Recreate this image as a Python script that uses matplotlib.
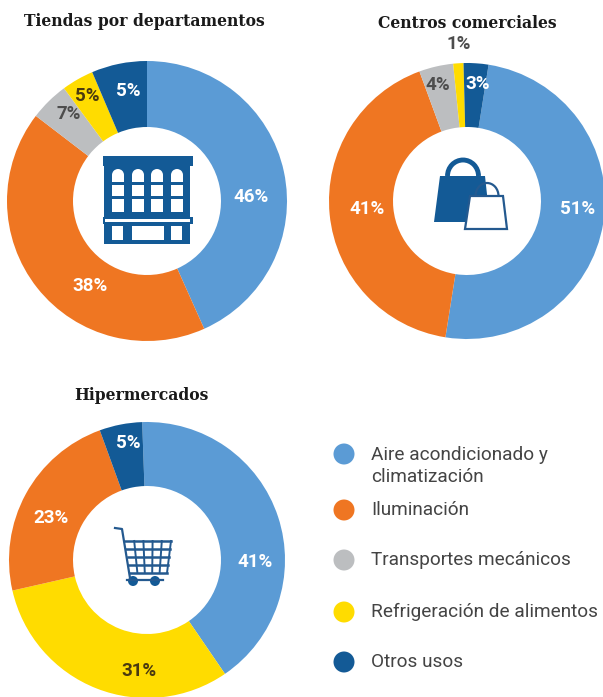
import matplotlib
matplotlib.use('Agg')
import matplotlib.pyplot as plt
from matplotlib.patches import Circle, Polygon, Rectangle, Arc, Wedge

W, H = 603, 697

BLUE = '#5b9bd5'
ORANGE = '#ef7622'
GRAY = '#bcbec0'
YELLOW = '#ffdc00'
NAVY = '#135a96'
LINE = '#24598f'

titles = ['Tiendas por departamentos', 'Centros comerciales', 'Hipermercados']

# lo impreso (labels) y lo que mide cada arco (shares) no siempre coinciden
dept_labels = [46, 38, 7, 5, 5]
dept_shares = [43.3, 42.1, 4.5, 3.7, 6.4]
dept_colors = [BLUE, ORANGE, GRAY, YELLOW, NAVY]
mall_labels = [51, 41, 4, 1, 3]
mall_shares = [50, 41.9, 4, 1.2, 2.9]
mall_colors = [BLUE, ORANGE, GRAY, YELLOW, NAVY]
hyper_labels = [41, 31, 23, 5]
hyper_shares = [41, 31, 23, 5]
hyper_colors = [BLUE, YELLOW, ORANGE, NAVY]

legend_labels = ['Aire acondicionado y\nclimatización', 'Iluminación',
                 'Transportes mecánicos', 'Refrigeración de alimentos', 'Otros usos']
legend_colors = [BLUE, ORANGE, GRAY, YELLOW, NAVY]


def py(y):
    return H - y


def donut(ax, values, colors, cx, cy, r, r_in, start):
    ax.pie(values, colors=colors, startangle=start, counterclock=False,
           center=(cx, py(cy)), radius=r, frame=True, normalize=True,
           wedgeprops={'width': r - r_in, 'linewidth': 0})


def title(ax, x, y, s):
    ax.text(x, py(y), s, color='#1a1a1a', fontsize=12.5, ha='center', va='center',
            family='DejaVu Serif', fontweight='bold', stretch='condensed')


def pct(ax, x, y, v, color):
    ax.text(x, py(y), '%d%%' % v, color=color, fontsize=13.5, ha='center', va='center',
            family='Roboto', fontweight='bold')


def building(ax):
    ax.add_patch(Rectangle((104, py(244)), 86, 78, color=NAVY, lw=0))
    ax.add_patch(Rectangle((103, py(166)), 90, 10, color=NAVY, lw=0))
    for x in [112, 132, 151, 171]:
        ax.add_patch(Wedge((x + 6, py(175)), 6, 0, 180, color='white', lw=0))
        ax.add_patch(Rectangle((x, py(182)), 12, 7, color='white', lw=0))
        ax.add_patch(Rectangle((x, py(196)), 12, 11, color='white', lw=0))
        ax.add_patch(Rectangle((x, py(212)), 12, 13, color='white', lw=0))
    ax.add_patch(Rectangle((103, py(224)), 90, 7, color=NAVY, lw=0))
    ax.add_patch(Rectangle((105, py(222)), 85, 3, color='white', lw=0))
    ax.add_patch(Rectangle((112, py(240)), 11, 14, color='white', lw=0))
    ax.add_patch(Rectangle((132, py(240)), 32, 14, color='white', lw=0))
    ax.add_patch(Rectangle((171, py(240)), 11, 14, color='white', lw=0))


def bags(ax):
    ax.add_patch(Polygon([(440, py(176)), (485, py(176)), (490, py(222)), (434, py(222))],
                         color=NAVY, lw=0))
    ax.add_patch(Arc((463, py(176)), 31, 32, theta1=0, theta2=180, color=NAVY, lw=3.5))
    ax.add_patch(Polygon([(470, py(196)), (503, py(196)), (507, py(229)), (465, py(229))],
                         facecolor='white', edgecolor=LINE, lw=1.6))
    ax.add_patch(Arc((487, py(196)), 23, 26, theta1=0, theta2=180, color=LINE, lw=1.6))


def cart(ax):
    ax.plot([115, 122, 130], [py(528), py(529), py(578)], color=LINE, lw=1.6)
    ax.plot([127, 163], [py(580), py(580)], color=LINE, lw=1.6)
    for y in [541, 549, 557, 565, 573]:
        t = (y - 541) / 32
        ax.plot([125 + 5 * t, 171 - 4 * t], [py(y), py(y)], color=LINE, lw=1.8)
    for k in range(1, 6):
        f = k / 5
        ax.plot([125 + 46 * f, 130 + 37 * f], [py(541), py(573)], color=LINE, lw=1.4)
    for x in [133, 155]:
        ax.add_patch(Circle((x, py(581)), 5, color=NAVY, lw=0))


fig = plt.figure(figsize=(W / 100, H / 100), dpi=100)
ax = fig.add_axes([0, 0, 1, 1])

donut(ax, dept_shares, dept_colors, 147, 201, 140, 74, 90)
donut(ax, mall_shares, mall_colors, 467, 201, 138, 74, 81)
donut(ax, hyper_shares, hyper_colors, 147, 560, 138, 74, 92)

ax.set_xlim(0, W)
ax.set_ylim(0, H)
ax.set_aspect('equal')
ax.axis('off')

title(ax, 144, 22, titles[0])
title(ax, 467, 23, titles[1])
title(ax, 141, 396, titles[2])

DARK = '#4d4d4d'
dept_xy = [(251, 197), (90, 286), (69, 114), (87, 96), (128, 91)]
dept_tc = ['white', 'white', DARK, '#4a3a10', 'white']
for v, (x, y), tc in zip(dept_labels, dept_xy, dept_tc):
    pct(ax, x, y, v, tc)

mall_xy = [(578, 209), (367, 209), (438, 85), (459, 44), (478, 84)]
mall_tc = ['white', 'white', DARK, DARK, 'white']
for v, (x, y), tc in zip(mall_labels, mall_xy, mall_tc):
    pct(ax, x, y, v, tc)

hyper_xy = [(255, 562), (139, 671), (51, 518), (128, 443)]
hyper_tc = ['white', '#4a3a10', 'white', 'white']
for v, (x, y), tc in zip(hyper_labels, hyper_xy, hyper_tc):
    pct(ax, x, y, v, tc)

building(ax)
bags(ax)
cart(ax)

legend_y = [454, 510, 560, 612, 662]
for lab, col, y in zip(legend_labels, legend_colors, legend_y):
    ax.add_patch(Circle((344, py(y)), 10.5, color=col, lw=0))
    ax.text(371, py(y + 12 if '\n' in lab else y), lab, fontsize=13.7, color='#444444',
            family='Roboto', va='center', ha='left', linespacing=1.35)

fig.savefig('out.png', dpi=100)
